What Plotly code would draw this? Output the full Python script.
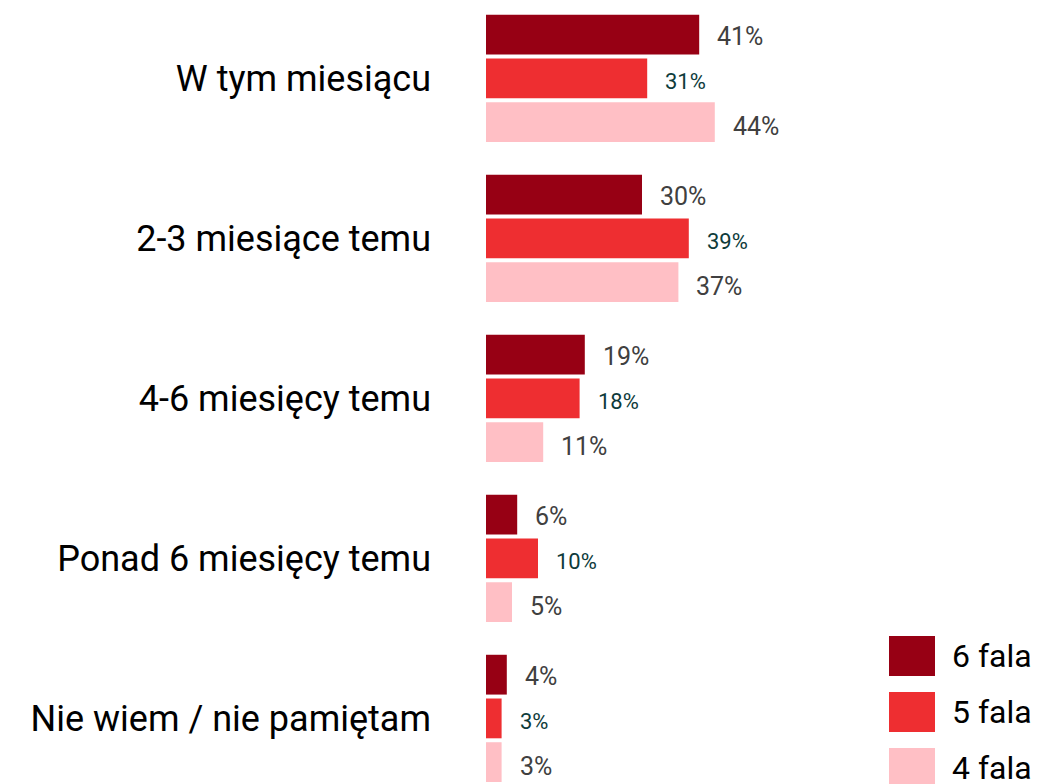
import plotly.graph_objects as go

categories = ["W tym miesiącu", "2-3 miesiące temu", "4-6 miesięcy temu",
              "Ponad 6 miesięcy temu", "Nie wiem / nie pamiętam"]
series_names = ["6 fala", "5 fala", "4 fala"]
fala6 = [41, 30, 19, 6, 4]
fala5 = [31, 39, 18, 10, 3]
fala4 = [44, 37, 11, 5, 3]
series_values = [fala6, fala5, fala4]
colors = ["#970014", "#EE2E31", "#FFBFC5"]
label_colors = ["#404040", "#0E3B3B", "#404040"]
label_sizes = [25, 22, 25]

FONT = "Roboto"
W, H = 1038, 784
L = 486

fig = go.Figure()
for name, vals, col in zip(series_names, series_values, colors):
    fig.add_trace(go.Bar(
        name=name, x=vals, y=categories, orientation="h",
        marker=dict(color=col, line=dict(width=0)),
        showlegend=False, hoverinfo="x+name",
    ))

# value labels
offsets = [-45, 0, 45]
for vals, lc, ls, off in zip(series_values, label_colors, label_sizes, offsets):
    for cat, v in zip(categories, vals):
        fig.add_annotation(x=v, y=cat, text=f"{v}%", showarrow=False,
                           xanchor="left", yanchor="middle",
                           xshift=16, yshift=-off - 3,
                           font=dict(family=FONT, size=ls, color=lc))

# custom legend
leg_top = [636, 692, 748]
for name, col, top in zip(series_names, colors, leg_top):
    fig.add_shape(type="rect", xref="paper", yref="paper",
                  x0=(889 - L) / (W - L), x1=(935 - L) / (W - L),
                  y0=1 - (top + 40) / H, y1=1 - top / H,
                  fillcolor=col, line=dict(width=0), layer="above")
    fig.add_annotation(xref="paper", yref="paper",
                       x=(950 - L) / (W - L), y=1 - (top + 20) / H,
                       text=name, showarrow=False, xanchor="left", yanchor="middle",
                       font=dict(family=FONT, size=32, color="#000000"))

fig.update_layout(
    width=W, height=H,
    margin=dict(l=L, r=0, t=0, b=0),
    paper_bgcolor="white", plot_bgcolor="white",
    barmode="group", bargap=0.18, bargroupgap=0.09,
    font=dict(family=FONT),
    xaxis=dict(range=[0, (W - L) / 5.2], visible=False, fixedrange=True),
    yaxis=dict(categoryorder="array", categoryarray=categories,
               range=[4.41, -0.49], showgrid=False, showline=False,
               zeroline=False, ticks="", ticklabelstandoff=54,
               tickfont=dict(family=FONT, size=36, color="#000000")),
)

fig.write_html("out.html", config={"displayModeBar": False},
               post_script="document.body.style.margin='0';document.body.style.overflow='hidden';")
